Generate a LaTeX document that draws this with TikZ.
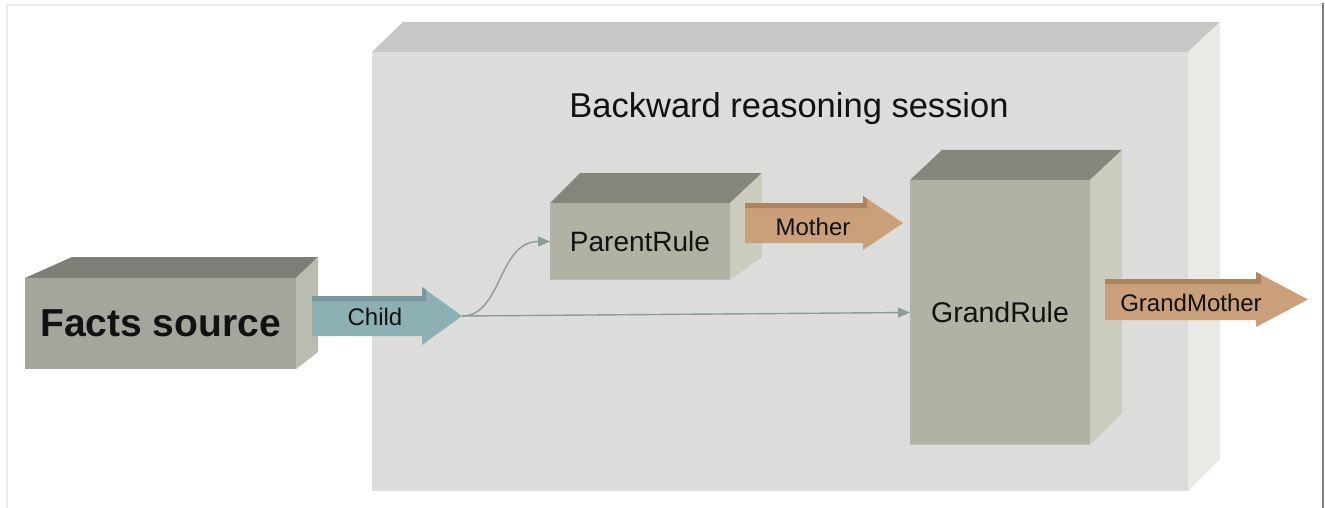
\documentclass[tikz,border=0pt]{standalone}
\usepackage{fontspec}
\setmainfont{Liberation Sans}
\usetikzlibrary{arrows.meta,calc}
\definecolor{sessFront}{HTML}{DCDCDA}
\definecolor{sessTop}{HTML}{C8C7C5}
\definecolor{sessRight}{HTML}{E9EAE6}
\definecolor{factFront}{HTML}{A3A69B}
\definecolor{factTop}{HTML}{7C7F76}
\definecolor{factRight}{HTML}{B9BDB1}
\definecolor{ruleFront}{HTML}{B1B2A4}
\definecolor{ruleTop}{HTML}{85867C}
\definecolor{ruleRight}{HTML}{CBCEBE}
\definecolor{childFill}{HTML}{8DB0B4}
\definecolor{childBand}{HTML}{76979B}
\definecolor{motherFill}{HTML}{C9A079}
\definecolor{motherBand}{HTML}{AE845E}
\definecolor{linkCol}{HTML}{8B9D93}
\definecolor{txt}{HTML}{111111}
\tikzset{
  face/.style={inner sep=0pt, outer sep=0pt, text=txt, align=center},
  lbl/.style={inner sep=0pt, text=txt},
  link/.style={draw=linkCol, line width=1.4pt, -{Triangle[length=12pt,width=10pt]}},
}
\begin{document}
\begin{tikzpicture}[x=1pt,y=-1pt]
\useasboundingbox (0,0) rectangle (1325,508);
\fill[white] (0,0) rectangle (1325,508);
% frame
\draw[black!8, line width=2.5pt] (7,508) -- (7,5) -- (1322,5);
\draw[black!50, line width=2pt] (1323,3) -- (1323,508);

% session box
\fill[sessTop] (372,52) -- (403,22) -- (1220,22) -- (1188,52) -- cycle;
\fill[sessRight] (1188,52) -- (1220,22) -- (1220,459) -- (1188,491) -- cycle;
\node[face, fill=sessFront, minimum width=816pt, minimum height=439pt] (session) at (780,271.5) {};
\draw[black!12, line width=1pt] (372,490.5) -- (1188,490.5);
\node[lbl, anchor=base, font=\fontsize{34.5}{40}\selectfont] (title) at (789,118) {Backward reasoning session};

% Facts source box
\fill[factTop] (25,278) -- (72,257) -- (318,257) -- (296,278) -- cycle;
\fill[factRight] (296,278) -- (318,257) -- (318,352) -- (296,369) -- cycle;
\node[face, fill=factFront, minimum width=271pt, minimum height=91pt,
      font=\bfseries\fontsize{39}{44}\selectfont] (facts) at (160.5,323.5) {Facts source};
\draw[black!35, line width=1pt] (25,368.5) -- (296,368.5);

% Child arrow
\fill[childFill] (312,296) -- (422,296) -- (422,287) -- (462,316) -- (422,345) -- (422,336) -- (312,336) -- cycle;
\fill[childBand] (312,296) -- (422,296) -- (422,287) -- (426,290) -- (426,301) -- (312,301) -- cycle;
\node[lbl, font=\fontsize{24}{28}\selectfont] (child) at (375,316.5) {Child};
\coordinate (childtip) at (462,316);

% ParentRule box
\fill[ruleTop] (550,203) -- (580,173) -- (762,173) -- (730,203) -- cycle;
\fill[ruleRight] (730,203) -- (762,173) -- (762,257) -- (730,280) -- cycle;
\node[face, fill=ruleFront, minimum width=180pt, minimum height=77pt,
      font=\fontsize{28}{32}\selectfont] (parent) at (640,241.5) {ParentRule};
\draw[black!25, line width=1pt] (550,279.5) -- (730,279.5);

% Mother arrow
\fill[motherFill] (745,203) -- (863,203) -- (863,196) -- (903,223) -- (863,250) -- (863,243) -- (745,243) -- cycle;
\fill[motherBand] (745,203) -- (863,203) -- (863,196) -- (867,199) -- (867,208) -- (745,208) -- cycle;
\node[lbl, font=\fontsize{24}{28}\selectfont] (mother) at (813,227) {Mother};

% GrandRule box
\fill[ruleTop] (910,180) -- (942,150) -- (1122,150) -- (1090,180) -- cycle;
\fill[ruleRight] (1090,180) -- (1122,150) -- (1122,413) -- (1090,445) -- cycle;
\node[face, fill=ruleFront, minimum width=180pt, minimum height=265pt,
      font=\fontsize{28.5}{32}\selectfont] (grand) at (1000,312.5) {GrandRule};
\draw[black!25, line width=1pt] (910,444.5) -- (1090,444.5);

% GrandMother arrow
\fill[motherFill] (1105,279) -- (1256,279) -- (1256,272) -- (1308,299.5) -- (1256,327) -- (1256,320) -- (1105,320) -- cycle;
\fill[motherBand] (1105,279) -- (1256,279) -- (1256,272) -- (1261,275) -- (1261,284) -- (1105,284) -- cycle;
\node[lbl, font=\fontsize{24}{28}\selectfont] (grandmother) at (1191,302.5) {GrandMother};

% connectors
\draw[link] (childtip) .. controls (502,316) and (498,241.5) .. (parent.west);
\draw[link] (childtip) -- (grand.west);
\end{tikzpicture}
\end{document}
